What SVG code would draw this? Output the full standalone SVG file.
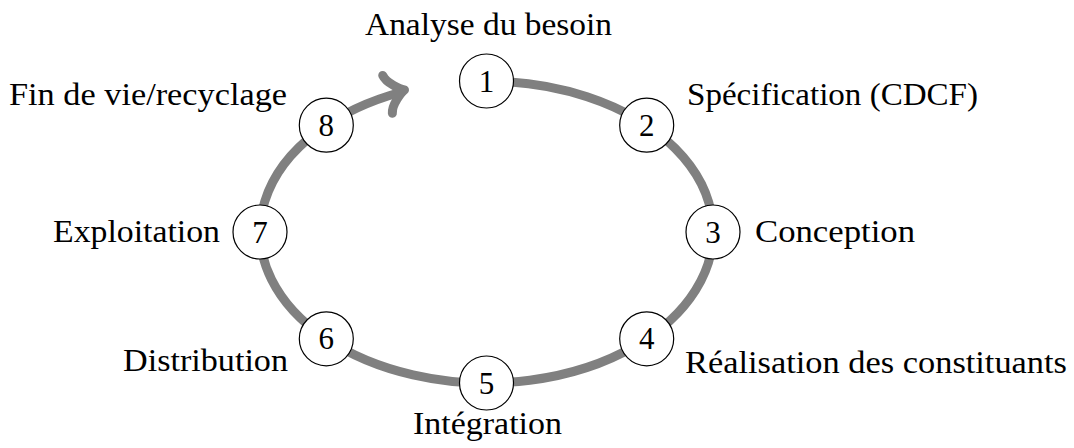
<svg xmlns="http://www.w3.org/2000/svg" width="1074" height="448" viewBox="0 0 1074 448">
<style>
.lbl{font-family:"Liberation Serif","Times New Roman",serif;font-size:32px;fill:#000}
.num{font-family:"Liberation Serif","Times New Roman",serif;font-size:31px;fill:#000;text-anchor:middle}
.nd{fill:#fff;stroke:#000;stroke-width:1.2}
.cyc{fill:none;stroke:#808080;stroke-width:9;stroke-linecap:round;stroke-linejoin:round}
</style>
<rect width="1074" height="448" fill="#fff"/>
<g id="connectors">
<path class="cyc" d="M486.5 81 A226.5 151 0 1 1 401.7 92"/>
<path class="cyc" transform="translate(404.5 90) rotate(-14.3)" d="M-17.5 -19.5 C-16 -11 -3.5 -1.5 0 0 C-3.5 1.5 -16 11 -17.5 19.5"/>
</g>
<g id="n1"><circle class="nd" cx="486.5" cy="81" r="27"/><text class="num" x="486.5" y="91.5">1</text><text class="lbl" x="365" y="35" textLength="247" lengthAdjust="spacingAndGlyphs">Analyse du besoin</text></g>
<g id="n2"><circle class="nd" cx="646.7" cy="125.2" r="27"/><text class="num" x="646.7" y="135.7">2</text><text class="lbl" x="687" y="105" textLength="291" lengthAdjust="spacingAndGlyphs">Spécification (CDCF)</text></g>
<g id="n3"><circle class="nd" cx="713" cy="232" r="27"/><text class="num" x="713" y="242.5">3</text><text class="lbl" x="755" y="242" textLength="160" lengthAdjust="spacingAndGlyphs">Conception</text></g>
<g id="n4"><circle class="nd" cx="646.7" cy="338.8" r="27"/><text class="num" x="646.7" y="349.3">4</text><text class="lbl" x="685" y="373" textLength="382" lengthAdjust="spacingAndGlyphs">Réalisation des constituants</text></g>
<g id="n5"><circle class="nd" cx="486.5" cy="383" r="27"/><text class="num" x="486.5" y="393.5">5</text><text class="lbl" x="413" y="434" textLength="149" lengthAdjust="spacingAndGlyphs">Intégration</text></g>
<g id="n6"><circle class="nd" cx="326.3" cy="338.8" r="27"/><text class="num" x="326.3" y="349.3">6</text><text class="lbl" x="123" y="371" textLength="165" lengthAdjust="spacingAndGlyphs">Distribution</text></g>
<g id="n7"><circle class="nd" cx="260" cy="232" r="27"/><text class="num" x="260" y="242.5">7</text><text class="lbl" x="53" y="242" textLength="167" lengthAdjust="spacingAndGlyphs">Exploitation</text></g>
<g id="n8"><circle class="nd" cx="326.3" cy="125.2" r="27"/><text class="num" x="326.3" y="135.7">8</text><text class="lbl" x="9" y="105" textLength="278" lengthAdjust="spacingAndGlyphs">Fin de vie/recyclage</text></g>
</svg>
